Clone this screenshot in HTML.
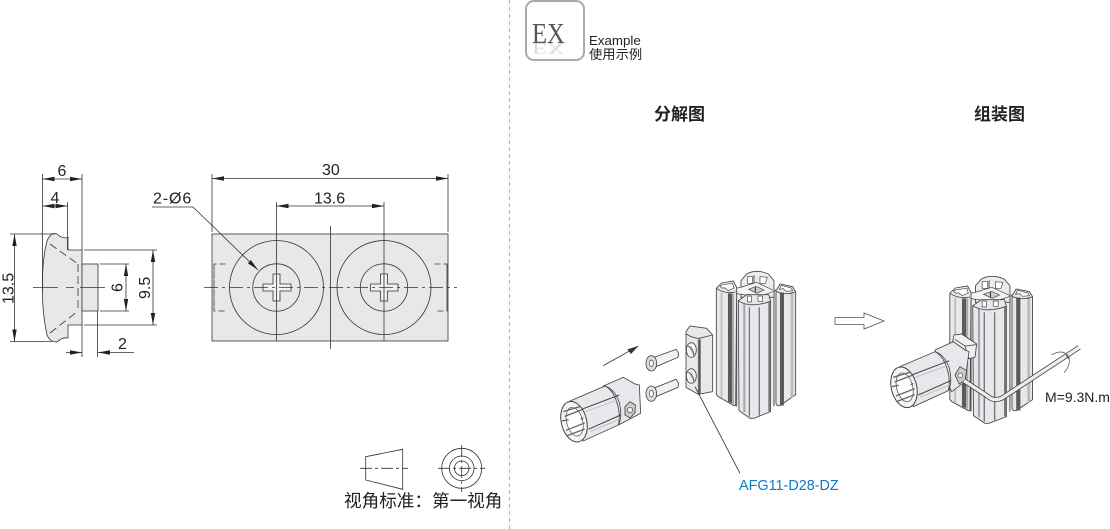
<!DOCTYPE html>
<html><head><meta charset="utf-8"><style>
html,body{margin:0;padding:0;background:#fff}
svg{display:block}
text{font-family:"Liberation Sans","Noto Sans CJK SC",sans-serif;fill:#222}
</style></head><body>
<svg width="1110" height="529" viewBox="0 0 1110 529" xmlns="http://www.w3.org/2000/svg">
<defs>
<marker id="a" viewBox="0 0 12 6" refX="12" refY="3" markerWidth="12" markerHeight="6" orient="auto-start-reverse" markerUnits="userSpaceOnUse"><path d="M0 .8L12 3L0 5.200z" fill="#222"/></marker>
<g id="prof">
<rect x="555" y="100" width="125" height="335" fill="#f0f0f2"/>
<path d="M560 100V440M672 100V440" stroke="#555" stroke-width="3"/>
<path d="M573 62L590 42Q620 26 655 42L672 62V112H573Z" fill="#ececef" stroke="#444" stroke-width="2.500"/>
<path d="M592 50H608V70H592ZM630 50L652 52L646 70H630Z" fill="#fff" stroke="#444" stroke-width="2"/>
<path d="M612 46V70" stroke="#555" stroke-width="3"/>
<path d="M545 88L575 81L620 67L670 91L690 88L625 110L565 102Z" fill="#f4f4f6" stroke="#444" stroke-width="2"/>
<path d="M596 88L619 79L642 90L621 100Z" fill="#ccc" stroke="#444" stroke-width="2"/>
<path d="M616 80V98" stroke="#333" stroke-width="3"/>
<path d="M499 85L515 69L550 63L560 82V100L557 437L552 437L505 410L499 403Z" fill="#e8e8ec" stroke="#444" stroke-width="2.500"/>
<path d="M512 98H517V414L512 412Z" fill="#bbb"/>
<path d="M534 100H546V430L534 425Z" fill="#5a5a5a"/>
<path d="M546 100H552V434L546 431Z" fill="#aaa"/>
<path d="M499 85Q525 103 557 96" fill="none" stroke="#444" stroke-width="2.500"/>
<path d="M510 78L520 74L548 70L552 84L535 92L525 84L515 84Z" fill="#fff" stroke="#444" stroke-width="2"/>
<path d="M678 92L690 72L728 80L737 95V404L690 437L682 437L678 430Z" fill="#e8e8ec" stroke="#444" stroke-width="2.500"/>
<path d="M690 98H702V436L690 437Z" fill="#5a5a5a"/>
<path d="M722 96H730V410L722 414Z" fill="#bbb"/>
<path d="M678 94Q710 108 737 95" fill="none" stroke="#444" stroke-width="2.500"/>
<path d="M688 88L694 76L724 84L728 92L708 94L700 86Z" fill="#fff" stroke="#444" stroke-width="2"/>
<path d="M565 122L576 114L590 104L656 104L662 124V455L612 475H600L567 452Z" fill="#e8e8ec" stroke="#444" stroke-width="2.500"/>
<path d="M580 132H586V458L580 456Z" fill="#a5a5a8"/>
<path d="M598 142V470" stroke="#555" stroke-width="3"/>
<path d="M626 142H630V466H626Z" fill="#777"/>
<path d="M655 128V455L662 453V124Z" fill="#777"/>
<path d="M565 122Q600 146 662 124" fill="none" stroke="#444" stroke-width="2.500"/>
<path d="M592 108H604V126H592ZM624 108H638V124H624Z" fill="#fff" stroke="#444" stroke-width="2"/>
</g>
<g id="cyl">
<path d="M0 0L105 -45Q135 -35 148 5Q158 50 145 72L40 120Z" fill="#e8e8ec" stroke="#444" stroke-width="2.500"/>
<path d="M105 -45Q135 -30 146 25Q150 55 145 72" fill="none" stroke="#444" stroke-width="2.500"/>
<path d="M35 25L148 -18M55 85L152 42" stroke="#444" stroke-width="3"/>
<path d="M38 35L150 -6M60 92L148 55" stroke="#bbb" stroke-width="2.500"/>
<ellipse cx="12" cy="62" rx="38" ry="62" transform="rotate(-14 12 62)" fill="#f4f4f6" stroke="#444" stroke-width="3"/>
<ellipse cx="14" cy="62" rx="24" ry="44" transform="rotate(-14 14 62)" fill="#fff" stroke="#444" stroke-width="2"/>
<path d="M-20 32L32 16M-16 46L36 26M-12 88L44 66M-8 104L44 84M-24 60L-4 56M32 55L40 50" stroke="#666" stroke-width="4"/>
</g>
</defs>

<path d="M509.500 0V529" stroke="#bbb" stroke-width="1.200" stroke-dasharray="4 3"/>

<g stroke="#333" stroke-width=".8" fill="none">
<path d="M52 234Q55 233 57 234Q62 239 68 237.500V250H82V325H68V338Q62 337 57 342Q50 342 47 335Q42 312 42.500 288Q42 260 47 241Q49 236 52 234Z" fill="#e8e8ea"/>
<rect x="82" y="264" width="16" height="47" fill="#e8e8ea"/>
<g stroke-dasharray="8 4"><path d="M50 244L78 264M50 333L78 311M78 264V311"/></g>
<path d="M33 287.500H58M66 287.500H74M80 287.500H105" stroke-width=".7"/>
<path d="M42.500 174V290M82 174V250M67.500 202V250M10 234H55M10 341.500H52M84 250H157M84 325H157M100 264H129M100 311H129M82 325V357M97.500 311V357"/>
<path d="M42.500 179H82" marker-start="url(#a)" marker-end="url(#a)"/>
<path d="M42.500 206H67.500" marker-start="url(#a)" marker-end="url(#a)"/>
<path d="M14.500 234V341.500" marker-start="url(#a)" marker-end="url(#a)"/>
<path d="M153 250V325" marker-start="url(#a)" marker-end="url(#a)"/>
<path d="M126 264V311" marker-start="url(#a)" marker-end="url(#a)"/>
<path d="M66 352.500H82" marker-end="url(#a)"/>
<path d="M134 352.500H98" marker-end="url(#a)"/>
</g>
<g font-size="16">
<text x="57.500" y="176">6</text>
<text x="50.500" y="203">4</text>
<text x="118" y="349">2</text>
<text transform="translate(13.500 304) rotate(-90)">13.5</text>
<text transform="translate(150 299) rotate(-90)">9.5</text>
<text transform="translate(122.500 292) rotate(-90)">6</text>
</g>

<g stroke="#333" stroke-width=".8" fill="none">
<rect x="212" y="234" width="236" height="107" fill="#e8e8ea"/>
<circle cx="276.500" cy="287.500" r="47"/><circle cx="276.500" cy="287.500" r="23.700"/>
<circle cx="384" cy="287.500" r="47"/><circle cx="384" cy="287.500" r="23.700"/>
<path d="M273 274H280V284H291V291H280V301H273V291H263V284H273Z" fill="#f0f0f2"/>
<path d="M380.500 274H387.500V284H398V291H387.500V301H380.500V291H370.500V284H380.500Z" fill="#f0f0f2"/>
<path d="M276.500 202V341M384 202V341M212 174V232M448 174V232M330.500 226V349" />
<path d="M204 287.500H457" stroke-dasharray="14 4 3 4" stroke-width=".7"/>
<path d="M225.500 264H214V311H225.500M214 264V311" stroke-dasharray="6 3"/>
<path d="M434.500 264H447V311H434.500M447 264V311" stroke-dasharray="6 3"/>
<path d="M212 178.500H448" marker-start="url(#a)" marker-end="url(#a)"/>
<path d="M276.500 206H384" marker-start="url(#a)" marker-end="url(#a)"/>
<path d="M152 207H193L258 270" marker-end="url(#a)"/>
</g>
<g font-size="16">
<text x="322" y="175">30</text>
<text x="314" y="203.500">13.6</text>
<text x="153" y="203.500" letter-spacing=".9">2-Ø6</text>
</g>

<g stroke="#333" stroke-width=".8" fill="none">
<path d="M365.700 456.700L402.700 449.300V489.300L365.700 480Z"/>
<path d="M360 468.300H408" stroke-dasharray="12 3 3 3"/>
<circle cx="461.700" cy="468.300" r="20"/><circle cx="461.700" cy="468.300" r="12.300"/><circle cx="461.700" cy="468.300" r="7.300"/>
<path d="M461.700 445V492M438 468.300H485" stroke-dasharray="12 3 3 3"/>
</g>
<text x="344" y="507" font-size="17.600">视角标准：第一视角</text>

<rect x="526" y="1" width="58" height="59" rx="8" fill="#fff" stroke="#aaa" stroke-width="2"/>
<text transform="translate(532 43) scale(.85 -.55)" font-size="29" style="font-family:'Liberation Serif',serif;fill:#d8d8d8">EX</text>
<text transform="translate(532 43) scale(.85 1)" font-size="29" style="font-family:'Liberation Serif',serif;fill:#555">EX</text>
<text x="589" y="45" font-size="13.300">Example</text>
<text x="589" y="59" font-size="13.300">使用示例</text>

<text x="654" y="120" font-size="17" font-weight="bold">分解图</text>
<text x="974" y="120" font-size="17" font-weight="bold">组装图</text>

<g transform="translate(550 260) scale(.3333)">
<use href="#prof"/>
<path d="M408 215L420 198L470 205L488 225V395L445 403L408 382Z" fill="#e8e8ec" stroke="#444" stroke-width="2.500"/>
<path d="M408 222Q430 235 448 235L488 225M445 238V403" fill="none" stroke="#444" stroke-width="2.500"/>
<path d="M447 238H452V402H447Z" fill="#555"/>
<ellipse cx="424" cy="270" rx="15" ry="22" fill="#f4f4f4" stroke="#444" stroke-width="2.500"/>
<path d="M414 258Q430 262 432 288" fill="#aaa" stroke="#444" stroke-width="2"/>
<ellipse cx="424" cy="348" rx="15" ry="22" fill="#f4f4f4" stroke="#444" stroke-width="2.500"/>
<path d="M414 336Q430 340 432 366" fill="#aaa" stroke="#444" stroke-width="2"/>
<path d="M310 293L378 268L386 280L384 292L318 320Z" fill="#f2f2f4" stroke="#444" stroke-width="2.500"/>
<path d="M310 385L378 358L386 370L384 382L318 410Z" fill="#f2f2f4" stroke="#444" stroke-width="2.500"/>
<ellipse cx="304" cy="310" rx="16" ry="23" fill="#ddd" stroke="#444" stroke-width="2.500"/>
<ellipse cx="304" cy="401" rx="16" ry="23" fill="#ddd" stroke="#444" stroke-width="2.500"/>
<ellipse cx="304" cy="310" rx="6" ry="10" fill="#fff" stroke="#444" stroke-width="2"/>
<ellipse cx="304" cy="401" rx="6" ry="10" fill="#fff" stroke="#444" stroke-width="2"/>
<path d="M160 378L220 352L255 372L268 375L272 460L205 495Z" fill="#e8e8ec" stroke="#444" stroke-width="2.500"/>
<use href="#cyl" transform="translate(60 423)"/>
<path d="M225 440L240 425L256 435L255 458L240 474L225 465Z" fill="#ccc" stroke="#444" stroke-width="2.500"/>
<circle cx="240" cy="450" r="8" fill="#f4f4f4" stroke="#444" stroke-width="2"/>
<path d="M160 317L265 258" stroke="#333" stroke-width="2.500" fill="none"/>
<path d="M265 258L232 268L243 282Z" fill="#333"/>
<path d="M435 380L570 640" stroke="#333" stroke-width="2.500" fill="none"/>
</g>
<text x="739" y="490" font-size="14.400" style="fill:#0b79c4">AFG11-D28-DZ</text>

<path d="M835 317.500H864V313L884 321L864 329V324.500H835Z" fill="#fff" stroke="#555" stroke-width=".8"/>

<g transform="translate(830 260) scale(.3333)">
<g transform="translate(-161 15) scale(1.043 1)"><use href="#prof"/></g>
<path d="M368 245L372 225L395 222L440 252L435 292L417 296L405 270Z" fill="#f0f0f2" stroke="#444" stroke-width="2.500"/>
<path d="M375 238L405 258L438 254M405 258L410 275" fill="none" stroke="#444" stroke-width="2.500"/>
<path d="M315 270L370 245L405 270L417 275L405 365L365 395L330 320Z" fill="#e8e8ec" stroke="#444" stroke-width="2.500"/>
<use href="#cyl" transform="translate(210 320)"/>
<path d="M375 345L390 320L410 332L405 360L388 372Z" fill="#ccc" stroke="#444" stroke-width="2.500"/>
<circle cx="391" cy="346" r="7" fill="#f4f4f4" stroke="#444" stroke-width="2"/>
<path d="M402 362L472 408Q490 425 515 415L748 262" fill="none" stroke="#444" stroke-width="15"/>
<path d="M402 362L472 408Q490 425 515 415L748 262" fill="none" stroke="#eee" stroke-width="10"/>
<path d="M708 285L716 297" stroke="#444" stroke-width="2.500"/>
<path d="M664 285Q700 265 716 290Q724 315 702 338" fill="none" stroke="#444" stroke-width="2"/>
</g>
<text x="1045" y="402" font-size="14">M=9.3N.m</text>
</svg>
</body></html>
